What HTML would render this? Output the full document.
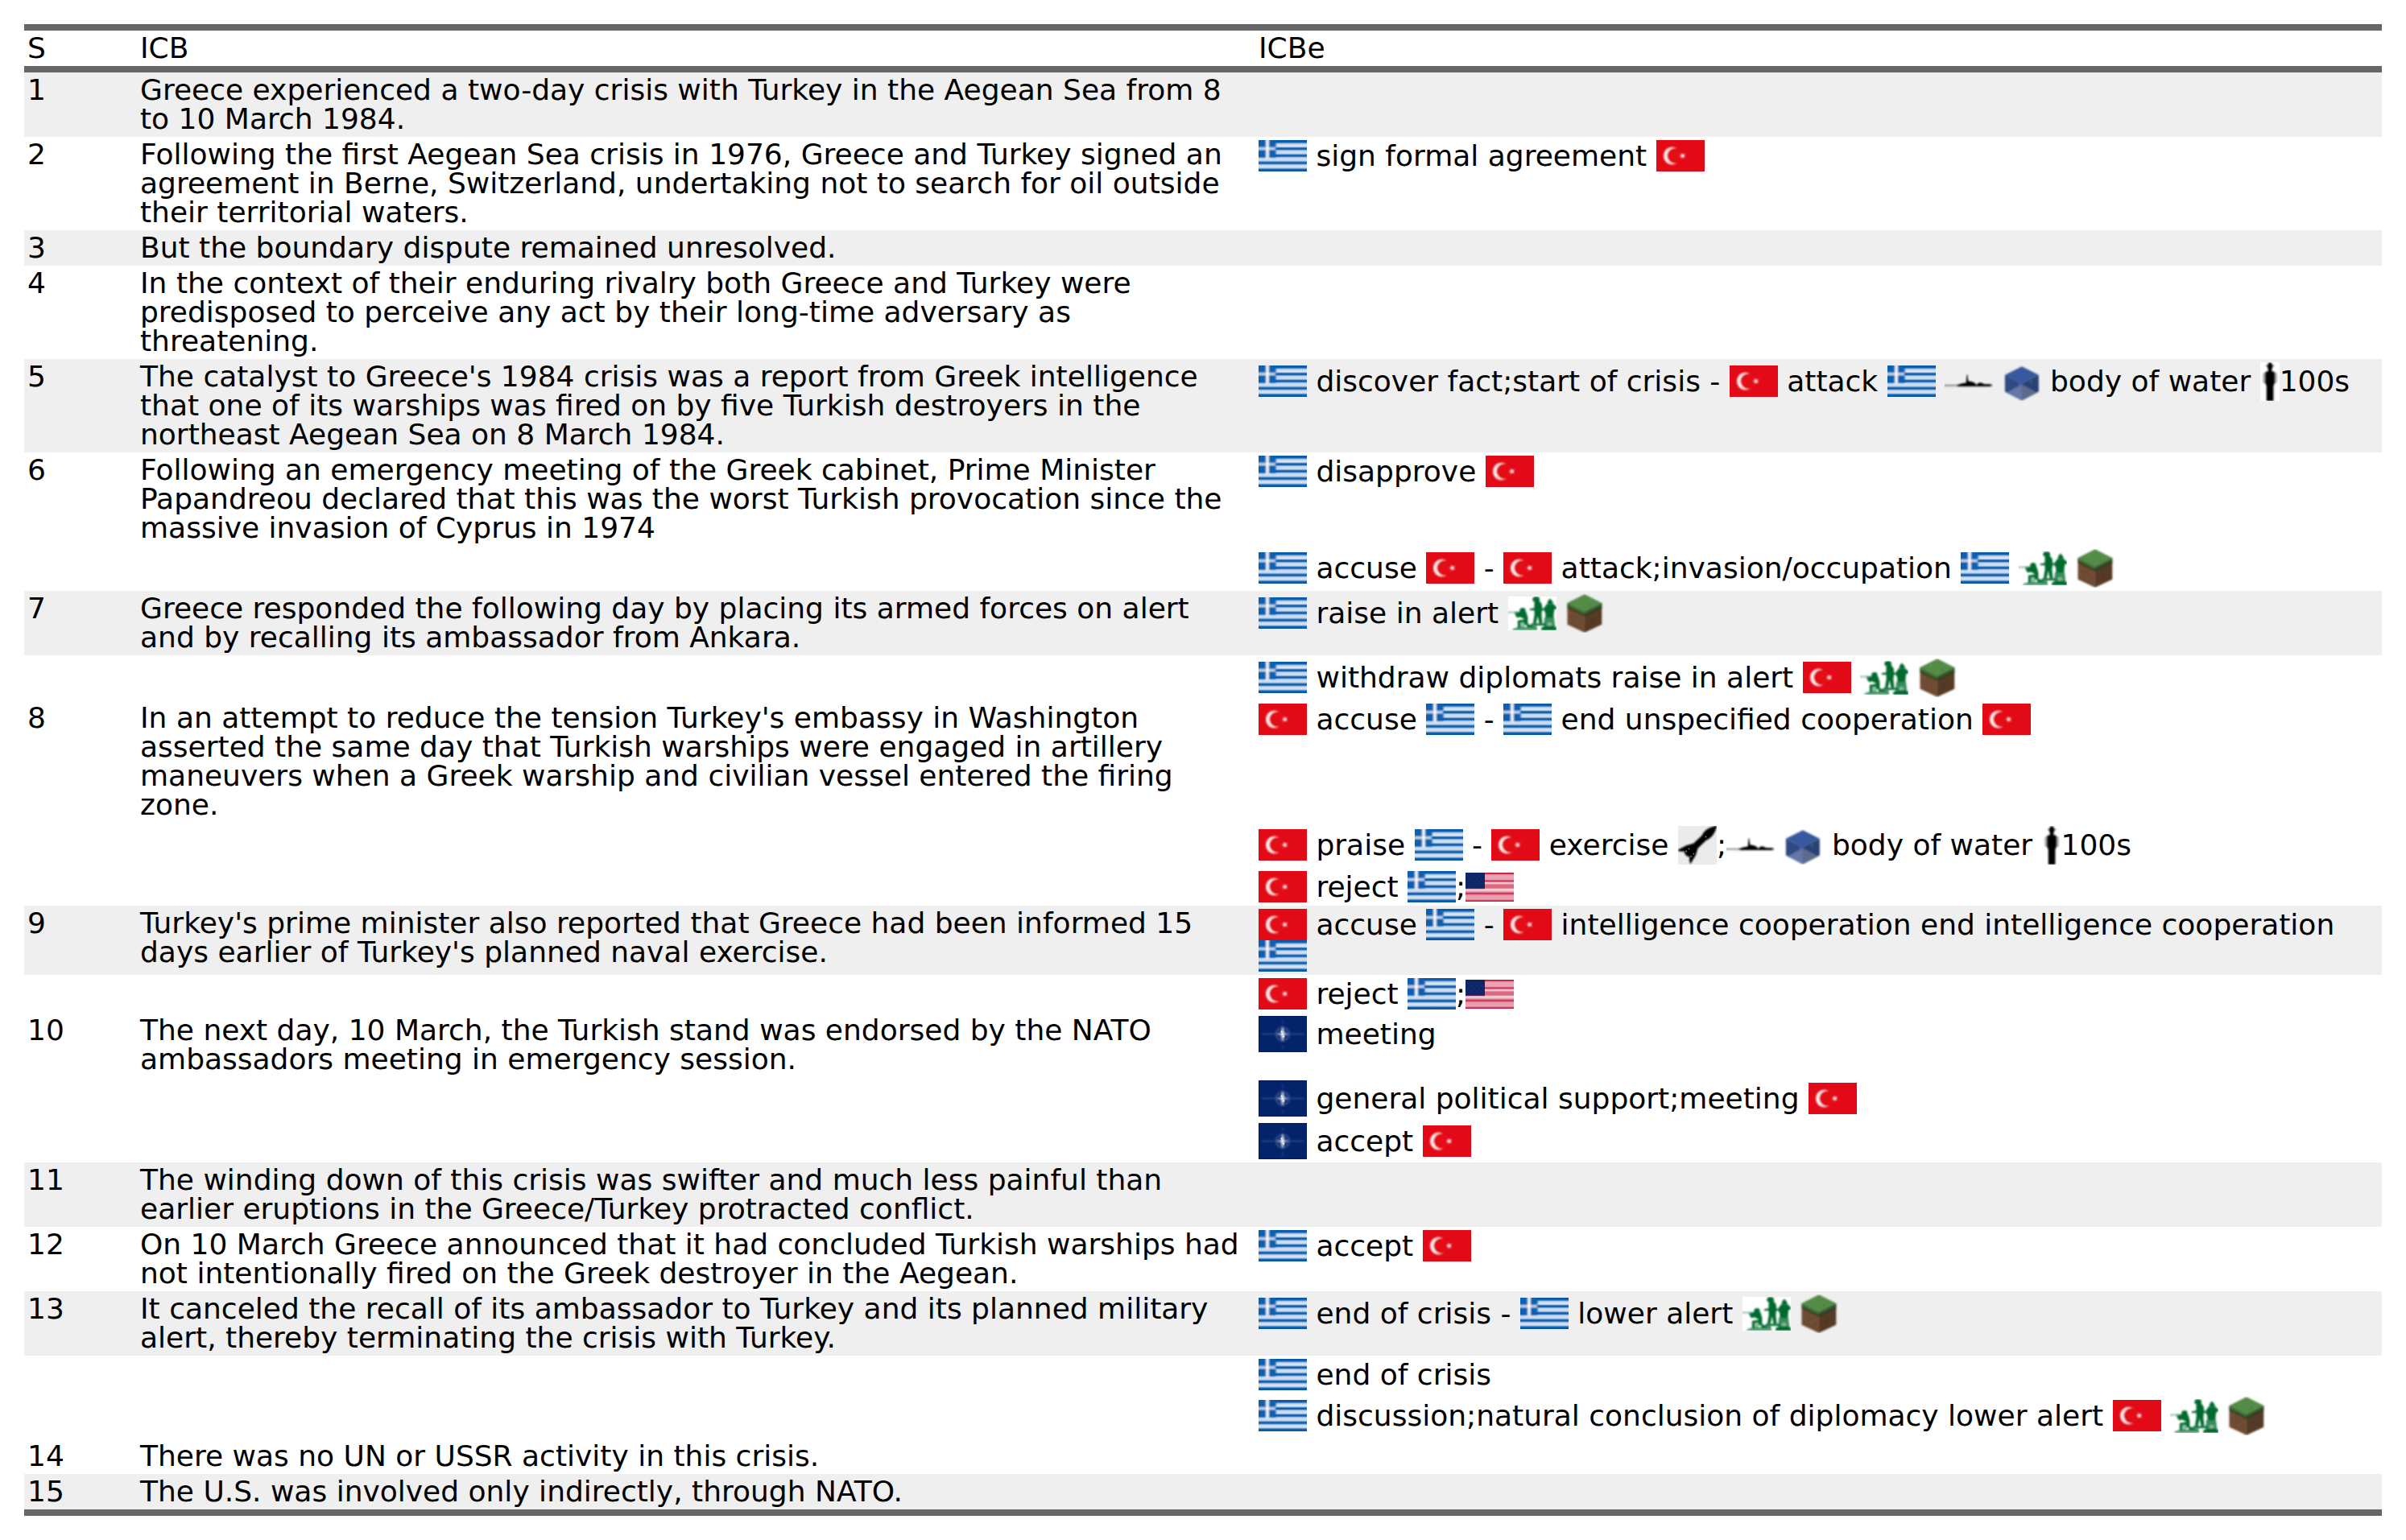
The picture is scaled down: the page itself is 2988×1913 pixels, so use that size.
<!DOCTYPE html>
<html lang="en">
<head>
<meta charset="utf-8">
<title>ICB / ICBe crisis narrative table</title>
<style>
html,body{margin:0;padding:0;background:#fff;}
body{width:2988px;height:1913px;overflow:hidden;font-family:"DejaVu Sans","Liberation Sans",sans-serif;font-size:36px;line-height:36px;color:#000;}
table{position:absolute;left:30px;top:30px;width:2928px;border-collapse:collapse;table-layout:fixed;border-top:8px solid #666;border-bottom:8px solid #666;}
th,td{padding:4px 4px 4px 4px;text-align:left;vertical-align:top;font-weight:normal;white-space:nowrap;overflow:visible;}
thead tr{height:44px;}
thead th{border-bottom:8px solid #666;}
.c1{width:132px;}
.c2{width:1381px;}
tr.g{background:#efefef;}
svg.i{display:inline-block;overflow:hidden;}
svg.fl{width:60px;height:39px;vertical-align:-7.25px;}
svg.us{width:60px;height:36px;vertical-align:-6px;}
svg.na{width:60px;height:45px;vertical-align:-10.5px;}
svg.sh{width:60px;height:20px;vertical-align:2px;}
svg.cu{width:48px;height:48px;vertical-align:-12px;}
svg.so{width:60px;height:42px;vertical-align:-9px;}
svg.pe{width:24px;height:48px;vertical-align:-12px;}
svg.ro{width:48px;height:48px;vertical-align:-12px;}
</style>
</head>
<body>
<svg width="0" height="0" style="position:absolute" aria-hidden="true">
<defs>
<filter id="b05" x="-30%" y="-30%" width="160%" height="160%"><feGaussianBlur stdDeviation="0.5"/></filter>
<filter id="b08" x="-30%" y="-30%" width="160%" height="160%"><feGaussianBlur stdDeviation="0.8"/></filter>
<filter id="b1" x="-30%" y="-30%" width="160%" height="160%"><feGaussianBlur stdDeviation="1"/></filter>
<filter id="b13" x="-30%" y="-30%" width="160%" height="160%"><feGaussianBlur stdDeviation="1.3"/></filter>
<filter id="b2" x="-30%" y="-30%" width="160%" height="160%"><feGaussianBlur stdDeviation="2"/></filter>

<!-- Greece -->
<linearGradient id="grs" x1="0" y1="0" x2="0" y2="39" gradientUnits="userSpaceOnUse">
<stop offset="0.0000" stop-color="#0654a9"/><stop offset="0.0615" stop-color="#0d5eaf"/><stop offset="0.0872" stop-color="#4f89c5"/><stop offset="0.1231" stop-color="#bcd1e8"/><stop offset="0.1872" stop-color="#e0e9f5"/><stop offset="0.2128" stop-color="#bcd1e8"/><stop offset="0.2410" stop-color="#4f89c5"/><stop offset="0.2590" stop-color="#0d5eaf"/><stop offset="0.2897" stop-color="#0d5eaf"/><stop offset="0.3077" stop-color="#4f89c5"/><stop offset="0.3385" stop-color="#bcd1e8"/><stop offset="0.3923" stop-color="#d3e0f0"/><stop offset="0.4333" stop-color="#bcd1e8"/><stop offset="0.4641" stop-color="#4f89c5"/><stop offset="0.4821" stop-color="#0d5eaf"/><stop offset="0.5128" stop-color="#0d5eaf"/><stop offset="0.5308" stop-color="#4f89c5"/><stop offset="0.5615" stop-color="#bcd1e8"/><stop offset="0.6154" stop-color="#d3e0f0"/><stop offset="0.6564" stop-color="#bcd1e8"/><stop offset="0.6949" stop-color="#4f89c5"/><stop offset="0.7128" stop-color="#0d5eaf"/><stop offset="0.7436" stop-color="#0d5eaf"/><stop offset="0.7615" stop-color="#4f89c5"/><stop offset="0.7923" stop-color="#bcd1e8"/><stop offset="0.8462" stop-color="#dde7f4"/><stop offset="0.8821" stop-color="#bcd1e8"/><stop offset="0.9128" stop-color="#5a92c9"/><stop offset="0.9385" stop-color="#0d5eaf"/><stop offset="1.0000" stop-color="#0654a9"/>
</linearGradient>
<g id="gr">
<rect width="60" height="39" fill="url(#grs)"/>
<g filter="url(#b1)">
<rect x="-4" y="-4" width="25.5" height="25.3" fill="#0d5eaf"/>
<rect x="9.3" y="-4" width="3.4" height="26.5" fill="#fff"/>
<rect x="-4" y="9.200" width="25" height="2.800" fill="#fff" opacity=".8"/>
</g>
</g>

<!-- Turkey -->
<g id="tr">
<rect width="60" height="39" fill="#e30a17"/>
<g filter="url(#b08)">
<circle cx="19.900" cy="19.500" r="10.800" fill="#fff" opacity=".95"/>
<circle cx="23.200" cy="19.500" r="9.900" fill="#e30a17"/>
</g>
<path filter="url(#b08)" fill="#fff" d="M28.600 19.500l7.400-2.600-4.600 6.400v-7.600l4.600 6.400z"/>
</g>

<!-- USA -->
<linearGradient id="uss" x1="0" y1="0" x2="0" y2="36" gradientUnits="userSpaceOnUse">
<stop offset="0" stop-color="#c4173a"/><stop offset=".035" stop-color="#c8213f"/><stop offset=".075" stop-color="#e79db0"/><stop offset=".15" stop-color="#e9a6b6"/><stop offset=".235" stop-color="#e79db0"/><stop offset=".27" stop-color="#d14a64"/>
<stop offset=".29" stop-color="#cc3655"/><stop offset=".315" stop-color="#d9607a"/><stop offset=".35" stop-color="#f3d3da"/><stop offset=".385" stop-color="#ecb4c0"/><stop offset=".42" stop-color="#db6a80"/><stop offset=".53" stop-color="#db6a80"/>
<stop offset=".57" stop-color="#f0c6cf"/><stop offset=".6" stop-color="#f3d9df"/><stop offset=".635" stop-color="#ecb0bd"/><stop offset=".67" stop-color="#e293a5"/><stop offset=".7" stop-color="#cf3f5c"/><stop offset=".73" stop-color="#cc3050"/>
<stop offset=".76" stop-color="#dd7c91"/><stop offset=".8" stop-color="#e79db0"/><stop offset=".92" stop-color="#e8a2b3"/><stop offset=".95" stop-color="#d65873"/><stop offset=".975" stop-color="#c8213f"/><stop offset="1" stop-color="#c4173a"/>
</linearGradient>
<g id="us">
<rect width="60" height="36" fill="url(#uss)"/>
<g filter="url(#b05)">
<rect x="-3" y="-3" width="27" height="22.6" fill="#0a2868"/>
<rect x="-3" y="19" width="27" height="1.2" fill="#5a1a55" opacity=".8"/>
</g>
<g fill="#3a5590" opacity=".3" filter="url(#b05)">
<circle cx="3" cy="4" r=".9"/><circle cx="10.5" cy="4" r=".9"/><circle cx="17" cy="4" r=".9"/>
<circle cx="7" cy="7.3" r=".9"/><circle cx="14" cy="7.3" r=".9"/><circle cx="20" cy="7.3" r=".9"/>
<circle cx="3" cy="10.6" r=".9"/><circle cx="10.5" cy="10.6" r=".9"/><circle cx="17" cy="10.6" r=".9"/>
<circle cx="7" cy="13.9" r=".9"/><circle cx="14" cy="13.9" r=".9"/><circle cx="20" cy="13.9" r=".9"/>
<circle cx="10.5" cy="16.8" r=".9"/><circle cx="17" cy="16.8" r=".9"/>
</g>
</g>

<!-- NATO -->
<g id="nato">
<rect width="60" height="45" fill="#03246b"/>
<rect x=".3" y=".3" width="59.400" height="44.400" fill="none" stroke="#02175a" stroke-width=".6"/>
<g filter="url(#b08)">
<circle cx="29.900" cy="22.500" r="8.600" fill="#32498a" opacity=".5"/>
<circle cx="29.900" cy="22.500" r="8.600" fill="none" stroke="#7186b6" stroke-width="1.200" opacity=".5"/>
<rect x="4" y="22" width="16" height="1" fill="#8da0c8" opacity=".5"/>
<rect x="40" y="22" width="16" height="1" fill="#8da0c8" opacity=".5"/>
<rect x="29.400" y="5" width="1" height="5" fill="#8da0c8" opacity=".35"/>
<rect x="29.400" y="36" width="1" height="5.500" fill="#8da0c8" opacity=".35"/>
<path fill="#fff" opacity=".9" d="M29.900 12.500l2.100 10-2.100 10-2.100-10z"/>
<path fill="#fff" opacity=".8" d="M21 22.500l8.900-1.100 8.900 1.100-8.900 1.100z"/>
</g>
<g filter="url(#b05)" fill="#fff"><circle cx="28.500" cy="19.300" r=".9"/><circle cx="31.200" cy="25.800" r="1"/></g>
</g>

<!-- warship -->
<g id="ship" filter="url(#b08)">
<rect x="-2" y="13.900" width="18" height="1.600" fill="#000" opacity=".5"/>
<path fill="#000" d="M14.300 14.700L17.700 13.400 22 12.300 26.700 11.500 27.100 6 27.600 1.300h.8L28.900 6l.5 3.600 2.600.1 3 .9 2.500 1.200 1.400 1.400.8 1.300.9-1.500 1.800-1.400h3.500l2.300 1.100 2.100.5H57.500v2.200l-1.500.7H18z"/>
<rect x="56" y="13.600" width="4" height="2.100" fill="#000" opacity=".4"/>
<rect x="0" y="17.500" width="58" height=".6" fill="#000" opacity=".12"/>
</g>

<!-- water cube -->
<g id="water" filter="url(#b1)">
<path fill="#39599f" d="M23.900 5.300l21 10.500-21 10.500-21-10.500z"/>
<path fill="#2f4b83" d="M2.900 15.800l21 10.500v21.100l-21-10.900z"/>
<path fill="#2c4273" d="M44.900 15.800l-21 10.500v21.100l21-10.900z"/>
<path fill="#6478a6" d="M23.900 27.500v19.900l-19-9.600z"/>
<path fill="#5b6a8d" d="M23.900 27.500v19.900l19-9.600z"/>
<circle cx="21" cy="27.500" r="1.300" fill="#3f6bbb"/><circle cx="35.500" cy="24.500" r="1.200" fill="#3f6bbb"/><circle cx="20" cy="18.500" r="1" fill="#3f66b3"/>
</g>

<!-- land cube -->
<g id="land" filter="url(#b1)">
<path fill="#6d4b31" d="M2.500 11l21.400 10.700v26l-21.400-10z"/>
<path fill="#553a27" d="M45.300 11l-21.400 10.700v26l21.400-10z"/>
<path fill="#3d6c36" d="M2.500 11l21.400 10.700v4.600l-21.400-10.700z"/>
<path fill="#335b2d" d="M45.300 11l-21.400 10.700v4.600l21.400-10.700z"/>
<path fill="none" stroke="#2a331f" stroke-width="2" opacity=".8" d="M2.500 16l21.400 10.700 21.400-10.700"/>
<path fill="#528b47" d="M23.900.3l21.400 10.700-21.400 10.700-21.400-10.700z"/>
<circle cx="7" cy="24" r="1.200" fill="#80593b"/><circle cx="14" cy="35" r="1.300" fill="#80593b"/><circle cx="7" cy="32.500" r="1.100" fill="#80593b"/><circle cx="19" cy="31.500" r="1.200" fill="#7c5639"/><circle cx="33" cy="33" r="1.400" fill="#463020"/><circle cx="40" cy="27" r="1.100" fill="#5f412c"/><circle cx="16" cy="9" r="1.500" fill="#5a964e"/><circle cx="30" cy="14" r="1.500" fill="#4a8140"/>
</g>

<!-- toy soldiers -->
<g id="sold">
<rect width="60" height="42" fill="#fff"/>
<g filter="url(#b08)" fill="#066b2f">
<rect x="-1" y="18.800" width="10" height="1.600" opacity=".5"/>
<rect x="8" y="18.800" width="7.500" height="1.800" opacity=".75"/>
<path d="M14.300 17.200c0-2 1.600-3.200 3.700-3.200s3.600 1.200 3.600 3.200l-.3 2.200h-6.700z"/>
<path d="M8.400 21.300l6.700-2.200 7.200 0 2.100 7.100v9h-4.300v-3l-8.200.2v-2.600l8.200-1.400v-.4l-5-2.500-4.100.7-2.300-3.500z"/>
<path d="M11.900 31.600h2.900v7.100h-2.900z"/>
<path d="M13.500 33h7v6h-7z" opacity=".45"/>
<path d="M23.500 33.400l8.500 3.600 3-.8v2h-12z"/>
<path d="M5.500 40.200l6.500-2.200h24v4h-30.500z" opacity=".68"/>
<path d="M28.700 33.400h17.900v2.500h-17.900z"/>
<path d="M30.300 3.300c0-2.200 2-3.400 4.400-3.400s4.400 1.200 4.400 3.400l-.5 2.600h-7.800z"/>
<path d="M32.600 5.500h6.200l2.900 3.700.6 5.500-.9 8 1.100 10.800h-4l-1.800-9.500-2 9.500h-3.900l1.900-11.200-.3-5.300-5.500.3v-2l5.500-1z"/>
<path d="M41 15.200l5 -1.200v2.200l-5 1.300z"/>
<path d="M51.900 2.600l3 3.200 1.100 3-4.100.8-3.400-.8.700-3z"/>
<path d="M48 9.200h8l1.500 1.300 2.800 2.900v1.600l-3 1.200-.5 3.200-.5 6.600-9.700.2-.6-6.700-1.600-1.500.6-4.500z"/>
<path d="M45 25.800h12l1.400 12.500h-14.400z" opacity=".78"/>
<ellipse cx="51.500" cy="34.200" rx="2.600" ry="2" fill="#fff" opacity=".4"/>
<path d="M41.200 42v-3.600l5-1.400h10l4 1.200v3.800z"/>
</g>
</g>

<!-- person -->
<g id="pers">
<rect width="24" height="48" fill="#fff"/>
<g filter="url(#b08)" fill="#000">
<ellipse cx="12.100" cy="5.200" rx="3.200" ry="5"/>
<rect x="6.700" y="3.700" width="10.800" height="1.400" rx=".7" opacity=".75"/>
<rect x="9.900" y="9" width="4.400" height="3"/>
<rect x="3.400" y="12.500" width="17.400" height="14" rx="3" opacity=".36"/>
<path d="M6.500 13.500q0-2.200 2.200-2.200h6.800q2.200 0 2.200 2.200v12.500l-1.300 3.500v18.500h-8.600v-18.500l-1.300-3.500z"/>
</g>
</g>

<!-- rocket -->
<g id="rock">
<rect width="48" height="48" fill="#ebebeb"/>
<g filter="url(#b08)">
<path transform="matrix(.724 -.69 -.69 -.724 9.500 36.500)" fill="#000" d="M54 0C50 2.200 45 4.900 40 5.300c-3 .2-6-.4-9-1.300h-14l-8 4.500-12.500 3.500 2-4 4-3.800-2-1.400v-5.600l2-1.400-4-3.800-2-4 12.500 3.500 8 4.500h14c3-.9 6-1.500 9-1.300 5 .4 10 3.100 14 5.300z"/>
</g>
<g fill="#ebebeb" opacity=".55" filter="url(#b05)"><circle cx="34.500" cy="13.500" r=".9"/><circle cx="13.500" cy="28.400" r=".9"/><circle cx="10.300" cy="31.500" r=".9"/><circle cx="19.300" cy="34.600" r=".9"/><circle cx="16.200" cy="37.800" r=".9"/></g>
</g>
</defs>
</svg>
<table>
<thead><tr><th class="c1">S</th><th class="c2">ICB</th><th class="c3">ICBe</th></tr></thead>
<tbody>
<tr class="g" style="height:80px"><td>1</td><td>Greece experienced a two-day crisis with Turkey in the Aegean Sea from 8<br>to 10 March 1984.</td><td></td></tr>
<tr style="height:116px"><td>2</td><td>Following the first Aegean Sea crisis in 1976, Greece and Turkey signed an<br>agreement in Berne, Switzerland, undertaking not to search for oil outside<br>their territorial waters.</td><td><svg class="i fl" viewBox="0 0 60 39"><use href="#gr"/></svg> sign formal agreement <svg class="i fl" viewBox="0 0 60 39"><use href="#tr"/></svg></td></tr>
<tr class="g" style="height:44px"><td>3</td><td>But the boundary dispute remained unresolved.</td><td></td></tr>
<tr style="height:116px"><td>4</td><td>In the context of their enduring rivalry both Greece and Turkey were<br>predisposed to perceive any act by their long-time adversary as<br>threatening.</td><td></td></tr>
<tr class="g" style="height:116px"><td>5</td><td>The catalyst to Greece's 1984 crisis was a report from Greek intelligence<br>that one of its warships was fired on by five Turkish destroyers in the<br>northeast Aegean Sea on 8 March 1984.</td><td><svg class="i fl" viewBox="0 0 60 39"><use href="#gr"/></svg> discover fact;start of crisis - <svg class="i fl" viewBox="0 0 60 39"><use href="#tr"/></svg> attack <svg class="i fl" viewBox="0 0 60 39"><use href="#gr"/></svg> <svg class="i sh" viewBox="0 0 60 20"><use href="#ship"/></svg> <svg class="i cu" viewBox="0 0 48 48"><use href="#water"/></svg> body of water <svg class="i pe" viewBox="0 0 24 48"><use href="#pers"/></svg>100s</td></tr>
<tr style="height:116px"><td>6</td><td>Following an emergency meeting of the Greek cabinet, Prime Minister<br>Papandreou declared that this was the worst Turkish provocation since the<br>massive invasion of Cyprus in 1974</td><td><svg class="i fl" viewBox="0 0 60 39"><use href="#gr"/></svg> disapprove <svg class="i fl" viewBox="0 0 60 39"><use href="#tr"/></svg></td></tr>
<tr style="height:56px"><td></td><td></td><td><svg class="i fl" viewBox="0 0 60 39"><use href="#gr"/></svg> accuse <svg class="i fl" viewBox="0 0 60 39"><use href="#tr"/></svg> - <svg class="i fl" viewBox="0 0 60 39"><use href="#tr"/></svg> attack;invasion/occupation <svg class="i fl" viewBox="0 0 60 39"><use href="#gr"/></svg> <svg class="i so" viewBox="0 0 60 42"><use href="#sold"/></svg> <svg class="i cu" viewBox="0 0 48 48"><use href="#land"/></svg></td></tr>
<tr class="g" style="height:80px"><td>7</td><td>Greece responded the following day by placing its armed forces on alert<br>and by recalling its ambassador from Ankara.</td><td><svg class="i fl" viewBox="0 0 60 39"><use href="#gr"/></svg> raise in alert <svg class="i so" viewBox="0 0 60 42"><use href="#sold"/></svg> <svg class="i cu" viewBox="0 0 48 48"><use href="#land"/></svg></td></tr>
<tr style="height:56px"><td></td><td></td><td><svg class="i fl" viewBox="0 0 60 39"><use href="#gr"/></svg> withdraw diplomats raise in alert <svg class="i fl" viewBox="0 0 60 39"><use href="#tr"/></svg> <svg class="i so" viewBox="0 0 60 42"><use href="#sold"/></svg> <svg class="i cu" viewBox="0 0 48 48"><use href="#land"/></svg></td></tr>
<tr style="height:152px"><td>8</td><td>In an attempt to reduce the tension Turkey's embassy in Washington<br>asserted the same day that Turkish warships were engaged in artillery<br>maneuvers when a Greek warship and civilian vessel entered the firing<br>zone.</td><td><svg class="i fl" viewBox="0 0 60 39"><use href="#tr"/></svg> accuse <svg class="i fl" viewBox="0 0 60 39"><use href="#gr"/></svg> - <svg class="i fl" viewBox="0 0 60 39"><use href="#gr"/></svg> end unspecified cooperation <svg class="i fl" viewBox="0 0 60 39"><use href="#tr"/></svg></td></tr>
<tr style="height:56px"><td></td><td></td><td><svg class="i fl" viewBox="0 0 60 39"><use href="#tr"/></svg> praise <svg class="i fl" viewBox="0 0 60 39"><use href="#gr"/></svg> - <svg class="i fl" viewBox="0 0 60 39"><use href="#tr"/></svg> exercise <svg class="i ro" viewBox="0 0 48 48"><use href="#rock"/></svg>;<svg class="i sh" viewBox="0 0 60 20"><use href="#ship"/></svg> <svg class="i cu" viewBox="0 0 48 48"><use href="#water"/></svg> body of water <svg class="i pe" viewBox="0 0 24 48"><use href="#pers"/></svg>100s</td></tr>
<tr style="height:47px"><td></td><td></td><td><svg class="i fl" viewBox="0 0 60 39"><use href="#tr"/></svg> reject <svg class="i fl" viewBox="0 0 60 39"><use href="#gr"/></svg>;<svg class="i us" viewBox="0 0 60 36"><use href="#us"/></svg></td></tr>
<tr class="g" style="height:86px"><td>9</td><td>Turkey's prime minister also reported that Greece had been informed 15<br>days earlier of Turkey's planned naval exercise.</td><td><svg class="i fl" viewBox="0 0 60 39"><use href="#tr"/></svg> accuse <svg class="i fl" viewBox="0 0 60 39"><use href="#gr"/></svg> - <svg class="i fl" viewBox="0 0 60 39"><use href="#tr"/></svg> intelligence cooperation end intelligence cooperation<br><svg class="i fl" viewBox="0 0 60 39"><use href="#gr"/></svg></td></tr>
<tr style="height:47px"><td></td><td></td><td><svg class="i fl" viewBox="0 0 60 39"><use href="#tr"/></svg> reject <svg class="i fl" viewBox="0 0 60 39"><use href="#gr"/></svg>;<svg class="i us" viewBox="0 0 60 36"><use href="#us"/></svg></td></tr>
<tr style="height:80px"><td>10</td><td>The next day, 10 March, the Turkish stand was endorsed by the NATO<br>ambassadors meeting in emergency session.</td><td><svg class="i na" viewBox="0 0 60 45"><use href="#nato"/></svg> meeting</td></tr>
<tr style="height:53px"><td></td><td></td><td><svg class="i na" viewBox="0 0 60 45"><use href="#nato"/></svg> general political support;meeting <svg class="i fl" viewBox="0 0 60 39"><use href="#tr"/></svg></td></tr>
<tr style="height:53px"><td></td><td></td><td><svg class="i na" viewBox="0 0 60 45"><use href="#nato"/></svg> accept <svg class="i fl" viewBox="0 0 60 39"><use href="#tr"/></svg></td></tr>
<tr class="g" style="height:80px"><td>11</td><td>The winding down of this crisis was swifter and much less painful than<br>earlier eruptions in the Greece/Turkey protracted conflict.</td><td></td></tr>
<tr style="height:80px"><td>12</td><td>On 10 March Greece announced that it had concluded Turkish warships had<br>not intentionally fired on the Greek destroyer in the Aegean.</td><td><svg class="i fl" viewBox="0 0 60 39"><use href="#gr"/></svg> accept <svg class="i fl" viewBox="0 0 60 39"><use href="#tr"/></svg></td></tr>
<tr class="g" style="height:80px"><td>13</td><td>It canceled the recall of its ambassador to Turkey and its planned military<br>alert, thereby terminating the crisis with Turkey.</td><td><svg class="i fl" viewBox="0 0 60 39"><use href="#gr"/></svg> end of crisis - <svg class="i fl" viewBox="0 0 60 39"><use href="#gr"/></svg> lower alert <svg class="i so" viewBox="0 0 60 42"><use href="#sold"/></svg> <svg class="i cu" viewBox="0 0 48 48"><use href="#land"/></svg></td></tr>
<tr style="height:47px"><td></td><td></td><td><svg class="i fl" viewBox="0 0 60 39"><use href="#gr"/></svg> end of crisis</td></tr>
<tr style="height:56px"><td></td><td></td><td><svg class="i fl" viewBox="0 0 60 39"><use href="#gr"/></svg> discussion;natural conclusion of diplomacy lower alert <svg class="i fl" viewBox="0 0 60 39"><use href="#tr"/></svg> <svg class="i so" viewBox="0 0 60 42"><use href="#sold"/></svg> <svg class="i cu" viewBox="0 0 48 48"><use href="#land"/></svg></td></tr>
<tr style="height:44px"><td>14</td><td>There was no UN or USSR activity in this crisis.</td><td></td></tr>
<tr class="g" style="height:44px"><td>15</td><td>The U.S. was involved only indirectly, through NATO.</td><td></td></tr>
</tbody>
</table>
</body>
</html>
